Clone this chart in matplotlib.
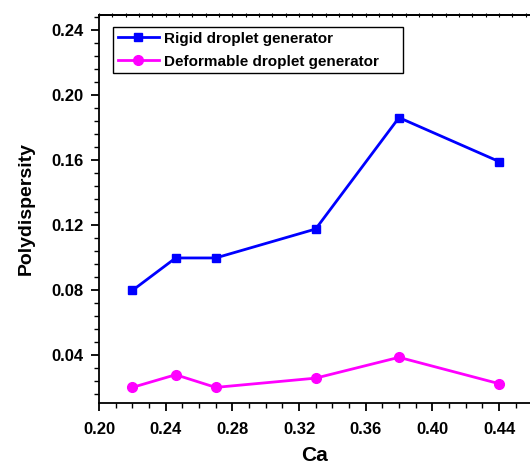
import matplotlib
matplotlib.use("Agg")
import matplotlib.pyplot as plt
from matplotlib.ticker import MultipleLocator, FormatStrFormatter, NullFormatter

plt.rcParams['font.family'] = ['Liberation Sans', 'DejaVu Sans']
plt.rcParams['font.weight'] = 'bold'

# data
ca = [0.22, 0.246, 0.27, 0.33, 0.38, 0.44]
rigid = [0.0797, 0.0997, 0.0997, 0.1175, 0.186, 0.159]
deformable = [0.0201, 0.0279, 0.0201, 0.0258, 0.0386, 0.0224]

fig = plt.figure(figsize=(5.3, 4.65), dpi=100)
ax = fig.add_axes([0.1868, 0.1333, 0.8132, 0.8355])

ax.plot(ca, rigid, color='#0000ff', marker='s', markersize=6, linewidth=2,
        label='Rigid droplet generator')
ax.plot(ca, deformable, color='#ff00ff', marker='o', markersize=7, linewidth=2,
        label='Deformable droplet generator')

ax.set_xlim(0.2, 0.4586)
ax.set_ylim(0.0105, 0.2494)
ax.xaxis.set_major_locator(MultipleLocator(0.04))
ax.xaxis.set_minor_locator(MultipleLocator(0.01))
ax.yaxis.set_major_locator(MultipleLocator(0.04))
ax.yaxis.set_minor_locator(MultipleLocator(0.008))
ax.xaxis.set_major_formatter(FormatStrFormatter('%.2f'))
ax.yaxis.set_major_formatter(FormatStrFormatter('%.2f'))

for s in ax.spines.values():
    s.set_linewidth(1.3)
ax.spines['right'].set_visible(False)

ax.tick_params(which='major', direction='out', length=6, width=1.3,
               labelsize=12, pad=5)
ax.tick_params(which='minor', direction='out', length=3.5, width=1.0)
ax.tick_params(axis='x', which='major', pad=8)

# small ticks straddling the top spine
top = ax.secondary_xaxis('top')
top.xaxis.set_major_locator(MultipleLocator(0.008))
top.xaxis.set_major_formatter(NullFormatter())
top.tick_params(which='major', direction='inout', length=3, width=0.8)
top.spines['top'].set_linewidth(1.3)

ax.set_xlabel('Ca', fontsize=15, fontweight='bold', labelpad=6)
ax.set_ylabel('Polydispersity', fontsize=14, fontweight='bold', labelpad=12)

leg = ax.legend(loc='upper left', bbox_to_anchor=(0.0325, 0.5, 0.673, 0.468),
                mode='expand', fontsize=11,
                frameon=True, fancybox=False, edgecolor='black', framealpha=1,
                handlelength=2.7, handletextpad=0.35, borderpad=0.3,
                labelspacing=0.6, borderaxespad=0)
leg.get_frame().set_linewidth(1.0)
for txt in leg.get_texts():
    txt.set_fontweight('bold')

fig.savefig('out.png', dpi=100)
